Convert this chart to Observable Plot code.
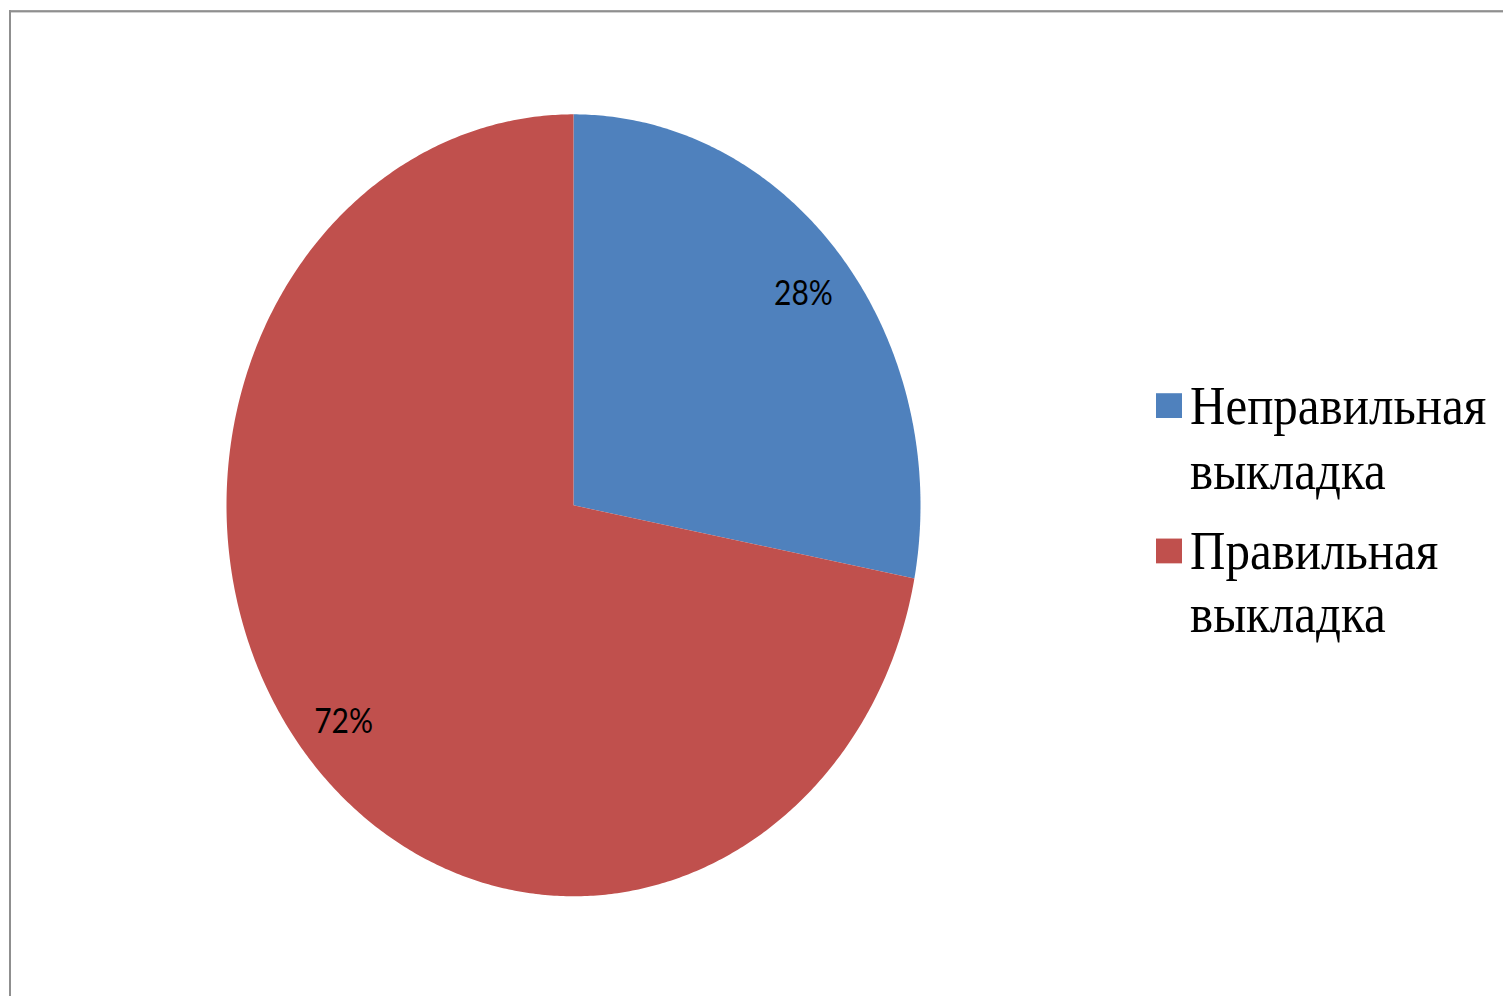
<!DOCTYPE html>
<html>
<head>
<meta charset="utf-8">
<script src="https://cdn.jsdelivr.net/npm/d3@7"></script>
<script src="https://cdn.jsdelivr.net/npm/@observablehq/plot@0.6"></script>
<style>
  html, body { margin: 0; padding: 0; background: #fff; overflow: hidden; width: 1503px; height: 996px; }
  #stage { position: relative; width: 1503px; height: 884px; transform: scaleY(1.1267); transform-origin: 0 0; }
  #frame { position: absolute; left: 9px; top: 9px; width: 2000px; height: 2000px;
           border-top: 2px solid #8f8f8f; border-left: 2px solid #8f8f8f; box-sizing: border-box; }
  #chart { position: absolute; left: 0; top: 0; }
  .legend { position: absolute; left: 0; top: 0; font-family: "Liberation Serif", "Times New Roman", serif; font-size: 49px; line-height: 40px; color: #000; }
  .sw { position: absolute; width: 26px; height: 22px; }
  .lt { position: absolute; white-space: nowrap; height: 40px; }
</style>
</head>
<body>
<div id="stage">
  <div id="frame"></div>
  <div id="chart"></div>
  <div class="legend" id="legend"></div>
</div>
<script>
// ---- data ----
const categories = ["Неправильная выкладка", "Правильная выкладка"];
const values = [28, 72];
const labels = ["28%", "72%"];
const colors = ["#4F81BD", "#C0504D"];

// ---- build slice polygons from cumulative values (clockwise from 12 o'clock) ----
const total = d3.sum(values);
let acc = 0;
const slices = categories.map((name, i) => {
  const a0 = acc / total * 2 * Math.PI;
  acc += values[i];
  const a1 = acc / total * 2 * Math.PI;
  return {name, a0, a1, value: values[i], label: labels[i]};
});
const points = [];
for (const s of slices) {
  const n = Math.max(2, Math.ceil((s.a1 - s.a0) / (2 * Math.PI) * 720));
  points.push({name: s.name, x: 0, y: 0});
  for (let k = 0; k <= n; k++) {
    const a = s.a0 + (s.a1 - s.a0) * k / n;
    points.push({name: s.name, x: Math.sin(a), y: Math.cos(a)});
  }
  points.push({name: s.name, x: 0, y: 0});
}
const labelR = 0.86;
const labelData = slices.map(s => {
  const m = (s.a0 + s.a1) / 2;
  return {name: s.name, label: s.label, x: labelR * Math.sin(m), y: labelR * Math.cos(m)};
});

const plot = Plot.plot({
  width: 1503,
  height: 884,
  marginLeft: 226,
  marginRight: 583,
  marginTop: 101,
  marginBottom: 89,
  x: {domain: [-1, 1], axis: null},
  y: {domain: [-1, 1], axis: null},
  color: {domain: categories, range: colors},
  style: {background: "transparent", overflow: "visible"},
  marks: [
    Plot.line(points, {x: "x", y: "y", z: "name", fill: "name", stroke: "none", curve: "linear"}),
    Plot.text(labelData, {x: "x", y: "y", text: "label", fill: "#000", dy: 2.5,
      fontFamily: "Lato, 'Open Sans', sans-serif", fontSize: 30, textAnchor: "middle", lineAnchor: "middle"})
  ]
});
document.getElementById("chart").appendChild(plot);

// ---- legend ----
const legend = document.getElementById("legend");
const baselines = [[376.3, 434.9], [505.9, 561.8]];
const swatchTops = [348.5, 478];
const baseOff = (40 - 1.107 * 49) / 2 + 0.891 * 49;
categories.forEach((c, i) => {
  const sw = document.createElement("div");
  sw.className = "sw";
  sw.style.left = "1156px";
  sw.style.top = swatchTops[i] + "px";
  sw.style.background = colors[i];
  legend.appendChild(sw);
  c.split(" ").forEach((word, j) => {
    const t = document.createElement("div");
    t.className = "lt";
    t.style.left = "1190px";
    t.style.top = (baselines[i][j] - baseOff) + "px";
    t.textContent = word;
    legend.appendChild(t);
  });
});
</script>
</body>
</html>
